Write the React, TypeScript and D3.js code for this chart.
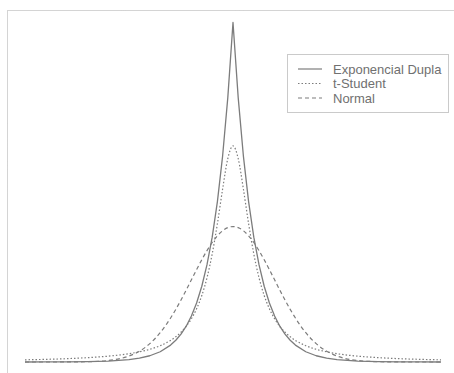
import React from "react";
import * as d3 from "d3";

const xValues = [-10, -9, -8, -7, -6, -5, -4.5, -4, -3.5, -3, -2.75, -2.5, -2.25, -2, -1.75, -1.5, -1.25, -1, -0.75, -0.5, -0.25, 0,
  0.25, 0.5, 0.75, 1, 1.25, 1.5, 1.75, 2, 2.25, 2.5, 2.75, 3, 3.5, 4, 4.5, 5, 6, 7, 8, 9, 10];

const laplaceHalf = [0.0000, 0.0001, 0.0002, 0.0005, 0.0012, 0.0034, 0.0056, 0.0092, 0.0151, 0.0249, 0.0320, 0.0410, 0.0527, 0.0677,
  0.0869, 0.1116, 0.1433, 0.1839, 0.2362, 0.3033, 0.3894, 0.5];
const studentHalf = [0.0032, 0.0039, 0.0049, 0.0064, 0.0086, 0.0122, 0.0150, 0.0187, 0.0240, 0.0318, 0.0372, 0.0439, 0.0525, 0.0637,
  0.0784, 0.0979, 0.1242, 0.1592, 0.2037, 0.2546, 0.2996, 0.3183];
const normalHalf = [0.0000, 0.0000, 0.0001, 0.0004, 0.0022, 0.0088, 0.0159, 0.0270, 0.0431, 0.0648, 0.0775, 0.0913, 0.1059, 0.1210,
  0.1360, 0.1506, 0.1641, 0.1760, 0.1859, 0.1933, 0.1979, 0.1995];

const mirror = (a: number[]) => a.concat(a.slice(0, -1).reverse());
const laplaceValues = mirror(laplaceHalf);
const studentValues = mirror(studentHalf);
const normalValues = mirror(normalHalf);

const seriesNames = ["Exponencial Dupla", "t-Student", "Normal"];
const seriesDash = ["none", "1.5,2", "4,3"];

export default function App() {
  const W = 454, H = 373;
  const x = d3.scaleLinear().domain([-10, 10]).range([25, 441]);
  const y = d3.scaleLinear().domain([0, 0.5]).range([362, 22.5]);
  const series = [laplaceValues, studentValues, normalValues];
  const curves = [d3.curveLinear, d3.curveMonotoneX, d3.curveMonotoneX];
  const stroke = "#7c7c7c";
  return (
    <svg width={W} height={H} style={{ position: "absolute", left: 0, top: 0, display: "block", background: "#fff" }}>
      <rect x={7.5} y={10.5} width={470} height={400} fill="none" stroke="#a8a8a8" strokeWidth={1} strokeDasharray="1,1" />
      {series.map((vals, i) => {
        const line = d3.line<number>().x((_, j) => x(xValues[j])).y((v) => y(v)).curve(curves[i]);
        return (
          <path key={i} d={line(vals) || ""} fill="none" stroke={stroke} strokeWidth={i === 0 ? 1.3 : 1.2}
            strokeDasharray={seriesDash[i]} strokeLinejoin="round" />
        );
      })}
      <rect x={287.5} y={54.5} width={161} height={58} fill="#fff" stroke="#959595" strokeWidth={1} strokeDasharray="1,1" />
      {seriesNames.map((name, i) => {
        const yy = 69 + i * 14.5;
        return (
          <g key={name}>
            <line x1={298} x2={322} y1={yy} y2={yy} stroke={stroke} strokeWidth={1.2} strokeDasharray={seriesDash[i]} />
            <text x={333} y={yy + 4.5} fontFamily="Liberation Sans, Arial, sans-serif" fontSize={13} fill="#707070">{name}</text>
          </g>
        );
      })}
    </svg>
  );
}
